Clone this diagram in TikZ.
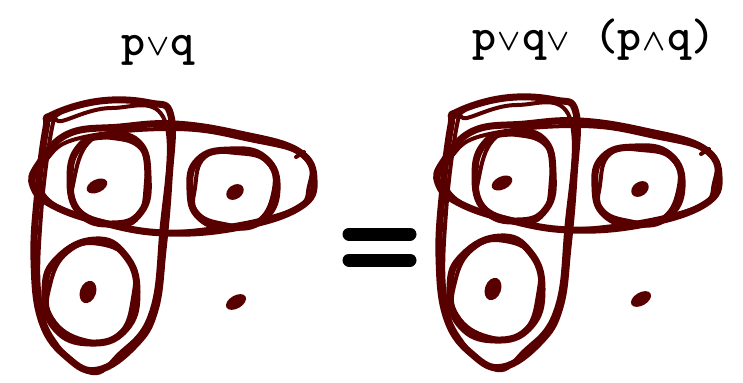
\documentclass[tikz,border=0pt]{standalone}
\usepackage{fontspec}
\usepackage{bm}
\usetikzlibrary{positioning}
\definecolor{egred}{RGB}{88,0,0}
\newcommand{\ormark}{\makebox[0.55em]{\fontsize{19}{19}\selectfont$\bm{\vee}$}}
\newcommand{\andmark}{\makebox[0.55em]{\fontsize{19}{19}\selectfont$\bm{\wedge}$}}

\begin{document}
\begin{tikzpicture}[
  x=0.02cm, y=-0.02cm,
  heavy/.style={draw=egred, line width=0.14cm, line join=round, line cap=round},
  light/.style={draw=egred, line width=0.08cm, line join=round, line cap=round},
  spot/.style={fill=egred},
  title/.style={font=\ttfamily\bfseries\fontsize{26}{28}\selectfont,
    anchor=base, inner sep=0pt},
  bar/.style={draw=black, line width=0.26cm, line cap=round},
  pics/egraph/.style={code={
    % ====== LASSO ROUND p (tall) ======
    \draw[heavy] plot[smooth cycle, tension=0.7] coordinates {(52,115) (100,101)
      (150,103) (171,116) (169,180) (163,250) (155,310) (135,345) (98,370)
      (68,358) (42,322) (34,260) (38,190) (46,128)};
    \draw[light] plot[smooth cycle, tension=0.7] coordinates {(62,121) (112,108)
      (165,121) (161,235) (150,315) (118,355) (92,373) (58,346) (40,300)
      (41,215) (53,123)};
    \draw[light] (50,120) -- (60,113);
    % ====== LASSO ROUND q (wide) ======
    \draw[heavy] plot[smooth cycle, tension=0.7] coordinates {(38,165) (68,134)
      (120,127) (175,124) (240,134) (298,151) (314,180) (300,207) (240,227)
      (165,233) (100,222) (52,205) (33,186)};
    \draw[light] plot[smooth cycle, tension=0.7] coordinates {(46,160) (80,138)
      (175,129) (250,140) (304,156) (309,186) (290,211) (200,230) (130,229)
      (62,209) (38,182)};
    \draw[light] (296,157) -- (304,152);
    % ====== SPOT CIRCLES ======
    \draw[heavy] plot[smooth cycle, tension=0.8] coordinates {(70,178) (80,146)
      (106,136) (138,142) (148,176) (141,212) (112,224) (80,213)};
    \draw[light] plot[smooth cycle, tension=0.8] coordinates {(74,180) (88,143)
      (112,138) (142,150) (146,182) (136,220) (105,222) (76,206)};
    \draw[heavy] plot[smooth cycle, tension=0.8] coordinates {(190,190) (198,160)
      (230,150) (265,158) (277,190) (262,220) (230,227) (200,218)};
    \draw[light] plot[smooth cycle, tension=0.8] coordinates {(195,188) (205,157)
      (236,153) (268,163) (273,194) (255,223) (224,224) (197,212)};
    \draw[heavy] plot[smooth cycle, tension=0.8] coordinates {(45,290) (58,258)
      (95,240) (125,255) (137,292) (125,330) (90,343) (55,328)};
    \draw[light] plot[smooth cycle, tension=0.8] coordinates {(50,285) (68,252)
      (100,244) (130,262) (133,298) (118,335) (84,340) (52,318)};
    % ====== SPOTS ======
    \fill[spot, rotate around={25:(97,186)}] (97,186) ellipse [x radius=0.22cm, y radius=0.13cm];
    \fill[spot, rotate around={35:(235,192)}] (235,192) ellipse [x radius=0.19cm, y radius=0.14cm];
    \fill[spot, rotate around={70:(88,292)}] (88,292) ellipse [x radius=0.23cm, y radius=0.16cm];
    \fill[spot, rotate around={30:(236,302)}] (236,302) ellipse [x radius=0.22cm, y radius=0.13cm];
  }},
]
\useasboundingbox (0,0) rectangle (743,382);
% ====== LEFT GRAPH ======
\node[title] (t_left) at (158,55) {p\ormark q};
\pic (g_left) at (0,0) {egraph};
% ====== EQUALS ======
\draw[bar] (349,234) -- (410,234);
\draw[bar] (349,260) -- (410,260);
% ====== RIGHT GRAPH ======
\node[title] (t_right) at (594,50) {p\ormark q\ormark\hspace{0.5em}(p\andmark q)};
\pic (g_right) at (405,-3) {egraph};
\end{tikzpicture}
\end{document}
